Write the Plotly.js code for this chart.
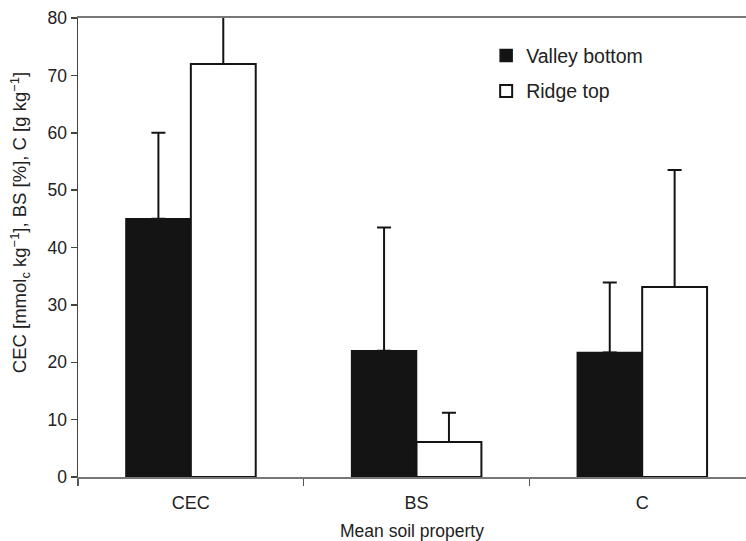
<!DOCTYPE html>
<html>
<head>
<meta charset="utf-8">
<script src="https://cdn.plot.ly/plotly-3.0.1.min.js"></script>
<style>
  html, body { margin: 0; padding: 0; background: #fff; }
  #chart { width: 746px; height: 541px; }
</style>
</head>
<body>
<div id="chart"></div>
<script>
// Mean soil properties by landscape position
const properties = ['CEC', 'BS', 'C'];
const valleyMean = [45, 22, 21.7];
const valleyErr = [15, 21.5, 12.2];
const ridgeMean = [72, 6.1, 33.1];
const ridgeErr = [14, 5.1, 20.4];
const seriesNames = ['Valley bottom', 'Ridge top'];
const yTitle = 'CEC [mmol<sub>c</sub> kg<sup>\u22121</sup>], BS [%], C [g kg<sup>\u22121</sup>]';
const xTitle = 'Mean soil property';

const FONT = 'Liberation Sans, Arial, Helvetica, sans-serif';
const INK = '#141414';
const TEXT = '#222';

function errorBar(values) {
  return {
    type: 'data', symmetric: false,
    array: values, arrayminus: values.map(() => 0),
    color: INK, thickness: 2, width: 7
  };
}

const traces = [
  {
    type: 'bar', name: seriesNames[0], legendgroup: 'a',
    x: properties, y: valleyMean,
    marker: { color: INK, line: { color: INK, width: 1.5 } },
    error_y: errorBar(valleyErr)
  },
  {
    type: 'bar', name: seriesNames[1], legendgroup: 'b',
    x: properties, y: ridgeMean,
    marker: { color: '#ffffff', line: { color: INK, width: 2 } },
    error_y: errorBar(ridgeErr)
  }
];

const layout = {
  width: 746, height: 541,
  margin: { l: 78, r: 0, t: 18, b: 64 },
  paper_bgcolor: '#fff', plot_bgcolor: '#fff',
  font: { family: FONT, size: 17, color: TEXT },
  barmode: 'group', bargap: 0.425, bargroupgap: 0,
  showlegend: true,
  legend: {
    x: 0.611, y: 0.96, xanchor: 'left', yanchor: 'top',
    font: { family: FONT, size: 19.5, color: TEXT },
    traceorder: 'grouped', tracegroupgap: 7,
    bgcolor: 'rgba(0,0,0,0)'
  },
  xaxis: {
    type: 'category', range: [-0.5, 2.46],
    tickson: 'boundaries', ticks: 'outside', ticklen: 7, tickcolor: '#555', tickwidth: 1.5,
    ticklabelstandoff: 8,
    showline: true, linecolor: '#777', linewidth: 2, mirror: true,
    showgrid: false, zeroline: false,
    tickfont: { family: FONT, size: 18, color: TEXT },
    title: { text: xTitle, font: { family: FONT, size: 17.5, color: TEXT }, standoff: 14 }
  },
  yaxis: {
    range: [0, 80], dtick: 10,
    ticks: 'outside', ticklen: 6, tickcolor: '#444', tickwidth: 1.5,
    showline: true, linecolor: '#444', linewidth: 1.5,
    showgrid: false, zeroline: false,
    tickfont: { family: FONT, size: 17.5, color: TEXT }
  },
  annotations: [{
    // value-axis title, set slightly above the axis centre
    text: yTitle, textangle: -90,
    xref: 'paper', yref: 'paper', x: -0.087, y: 0.555,
    xanchor: 'center', yanchor: 'middle', showarrow: false,
    font: { family: FONT, size: 18.5, color: TEXT }
  }]
};

Plotly.newPlot('chart', traces, layout, { displayModeBar: false, staticPlot: true });
</script>
</body>
</html>
